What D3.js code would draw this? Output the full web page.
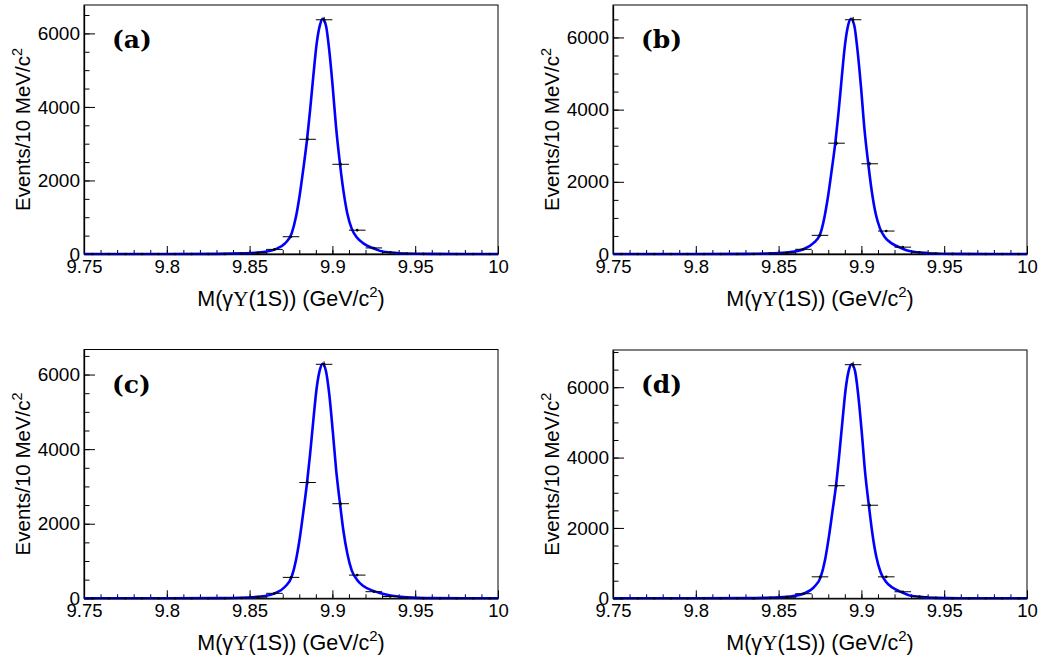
<!DOCTYPE html>
<html><head><meta charset="utf-8">
<script src="https://cdn.jsdelivr.net/npm/d3@7"></script>
<style>body{margin:0;background:#fff} svg{display:block}</style>
</head><body>
<svg id="c" width="1042" height="660"></svg>
<script>
// ---------------- data ----------------
const binCenters = [9.755, 9.765, 9.775, 9.785, 9.795, 9.805, 9.815, 9.825, 9.835, 9.845,
                    9.855, 9.865, 9.875, 9.885, 9.895, 9.905, 9.915, 9.925, 9.935, 9.945,
                    9.955, 9.965, 9.975, 9.985, 9.995];
const binWidth = 0.01;

const countsA = [0,0,0,0,0,0,0,0,0,8, 30,125,470,3120,6370,2440,648,165,45,12, 3,0,0,0,0];
const countsB = [0,0,0,0,0,0,0,0,0,8, 32,130,517,3070,6490,2500,636,190,50,14, 3,0,0,0,0];
const countsC = [0,0,0,0,0,0,0,0,0,9, 34,133,561,3105,6275,2537,622,177,48,13, 3,0,0,0,0];
const countsD = [0,0,0,0,0,0,0,0,0,9, 33,130,610,3200,6640,2645,610,186,50,14, 3,0,0,0,0];

// fitted curves
const curveXA = [9.75, 9.80, 9.83, 9.845, 9.8567, 9.8653, 9.8714, 9.8754, 9.878, 9.8804, 9.8824, 9.8847, 9.8865, 9.8885, 9.8905, 9.8925, 9.8941, 9.8961, 9.8981, 9.9002, 9.9022, 9.9046, 9.9066, 9.909, 9.9116, 9.9147, 9.9187, 9.9247, 9.9287, 9.935, 9.945, 9.96, 9.98, 10.0];
const curveYA = [0, 0.5, 4, 18, 46, 127, 290, 561, 1012, 1647, 2300, 3121, 3900, 4850, 5720, 6230, 6396, 6214, 5536, 4540, 3455, 2442, 1737, 1104, 697, 453, 290, 155, 85, 40, 12, 3, 0.5, 0];

const curveXB = [9.75, 9.80, 9.83, 9.845, 9.8563, 9.8649, 9.871, 9.875, 9.8776, 9.88, 9.882, 9.8843, 9.8861, 9.8881, 9.8901, 9.8921, 9.8937, 9.8957, 9.8977, 9.8998, 9.9018, 9.9042, 9.9062, 9.9086, 9.9112, 9.9143, 9.9183, 9.9243, 9.9283, 9.935, 9.945, 9.96, 9.98, 10.0];
const curveYB = [0, 0.5, 4, 18, 48, 130, 300, 540, 1000, 1640, 2300, 3100, 3880, 4870, 5800, 6360, 6520, 6330, 5620, 4600, 3480, 2480, 1760, 1120, 710, 460, 295, 160, 88, 42, 13, 3, 0.5, 0];

const curveXC = [9.75, 9.80, 9.83, 9.848, 9.8593, 9.8653, 9.8714, 9.8754, 9.878, 9.8804, 9.8824, 9.8847, 9.8865, 9.8885, 9.8905, 9.8925, 9.8941, 9.8961, 9.8981, 9.9002, 9.9022, 9.9046, 9.9066, 9.909, 9.9116, 9.9147, 9.9187, 9.9247, 9.9287, 9.935, 9.945, 9.96, 9.98, 10.0];
const curveYC = [0, 0.5, 5, 22, 61, 133, 310, 577, 1023, 1645, 2300, 3105, 3850, 4780, 5640, 6140, 6291, 6096, 5474, 4494, 3471, 2537, 1824, 1202, 756, 507, 330, 200, 140, 75, 25, 5, 1, 0];

const curveXD = [9.75, 9.80, 9.83, 9.845, 9.8567, 9.8653, 9.8714, 9.8754, 9.878, 9.8804, 9.8824, 9.8847, 9.8865, 9.8885, 9.8905, 9.8925, 9.8941, 9.8961, 9.8981, 9.9002, 9.9022, 9.9046, 9.9066, 9.909, 9.9116, 9.9147, 9.9187, 9.9247, 9.9287, 9.935, 9.945, 9.96, 9.98, 10.0];
const curveYD = [0, 0.5, 4, 19, 50, 135, 320, 600, 1080, 1760, 2430, 3220, 4020, 5010, 5950, 6500, 6652, 6470, 5770, 4730, 3600, 2600, 1850, 1180, 740, 480, 305, 165, 90, 43, 13, 3, 0.5, 0];

const xDomain = [9.75, 10];
const xTickValues = [9.75, 9.8, 9.85, 9.9, 9.95, 10];
const xTickLabels = ["9.75", "9.8", "9.85", "9.9", "9.95", "10"];
const xMinorStep = 0.01;
const yTickValues = [0, 2000, 4000, 6000];
const yTickLabels = ["0", "2000", "4000", "6000"];
const yMinorStep = 500;
const panelLabels = ["(a)", "(b)", "(c)", "(d)"];

// ---------------- layout ----------------
const panels = [
  {left: 84,  right: 498,  top: 5,     bottom: 254,   counts: countsA, cx: curveXA, cy: curveYA, label: panelLabels[0]},
  {left: 613, right: 1027, top: 5,     bottom: 254,   counts: countsB, cx: curveXB, cy: curveYB, label: panelLabels[1]},
  {left: 84,  right: 498,  top: 349.5, bottom: 598.3, counts: countsC, cx: curveXC, cy: curveYC, label: panelLabels[2]},
  {left: 613, right: 1027, top: 350,   bottom: 598.3, counts: countsD, cx: curveXD, cy: curveYD, label: panelLabels[3]}
];
const SANS = '"Liberation Sans", Arial, Helvetica, sans-serif';
const svg = d3.select("#c");

function drawPanel(p) {
  const g = svg.append("g");
  const x = d3.scaleLinear(xDomain, [p.left, p.right]);
  const errs = p.counts.map(v => Math.sqrt(v));
  const yMax = 1.05 * d3.max(p.counts, (v, i) => v + errs[i]);
  const y = d3.scaleLinear([0, yMax], [p.bottom, p.top]);

  // frame
  g.append("rect").attr("x", p.left).attr("y", p.top)
    .attr("width", p.right - p.left).attr("height", p.bottom - p.top)
    .attr("fill", "none").attr("stroke", "#000").attr("stroke-width", 1);

  // x minor ticks
  const xMinor = d3.range(0, 26).map(i => xDomain[0] + i * xMinorStep);
  g.append("g").attr("transform", `translate(0,${p.bottom})`)
    .call(d3.axisBottom(x).tickValues(xMinor).tickSize(-4).tickSizeOuter(0).tickFormat(""))
    .call(a => a.select(".domain").remove())
    .selectAll("line").attr("stroke", "#000");
  // x major ticks
  const xa = g.append("g").attr("transform", `translate(0,${p.bottom})`)
    .call(d3.axisBottom(x).tickValues(xTickValues).tickSize(-8).tickSizeOuter(0).tickPadding(6)
      .tickFormat((d, i) => xTickLabels[i]));
  xa.select(".domain").attr("stroke", "#000").attr("stroke-width", 1.3);
  xa.selectAll("text").attr("font-family", SANS).attr("font-size", 18.5).attr("fill", "#000");

  // y minor ticks
  const yMinor = d3.range(0, yMax, yMinorStep);
  g.append("g").attr("transform", `translate(${p.left},0)`)
    .call(d3.axisLeft(y).tickValues(yMinor).tickSize(-5.5).tickSizeOuter(0).tickFormat(""))
    .call(a => a.select(".domain").remove())
    .selectAll("line").attr("stroke", "#000");
  const ya = g.append("g").attr("transform", `translate(${p.left},0)`)
    .call(d3.axisLeft(y).tickValues(yTickValues).tickSize(-11).tickSizeOuter(0).tickPadding(4)
      .tickFormat((d, i) => yTickLabels[i]));
  ya.select(".domain").attr("stroke", "#000").attr("stroke-width", 1.3);
  ya.selectAll("text").attr("font-family", SANS).attr("font-size", 19).attr("fill", "#000");

  // fit curve
  const pts = p.cx.map((v, i) => [v, p.cy[i]]);
  g.append("path").datum(pts)
    .attr("d", d3.line().x(d => x(d[0])).y(d => y(d[1])).curve(d3.curveMonotoneX))
    .attr("fill", "none").attr("stroke", "#0000ff").attr("stroke-width", 2.6)
    .attr("stroke-linejoin", "round");

  // data points with error bars
  const pg = g.append("g").attr("stroke", "#000").attr("stroke-width", 1);
  binCenters.forEach((c, i) => {
    const v = p.counts[i], e = errs[i];
    pg.append("line").attr("x1", x(c - binWidth / 2)).attr("x2", x(c + binWidth / 2))
      .attr("y1", y(v)).attr("y2", y(v));
    if (e > 0) pg.append("line").attr("x1", x(c)).attr("x2", x(c))
      .attr("y1", y(v - e)).attr("y2", y(v + e));
    pg.append("circle").attr("cx", x(c)).attr("cy", y(v)).attr("r", 1.3)
      .attr("fill", "#000").attr("stroke", "none");
  });

  // panel label
  g.append("text").attr("x", p.left + 28).attr("y", p.top + 43)
    .attr("font-family", '"DejaVu Serif", "Liberation Serif", serif')
    .attr("font-weight", "bold").attr("font-size", 25).attr("fill", "#000")
    .text(p.label);

  // x title
  const xt = g.append("text").attr("x", (p.left + p.right) / 2).attr("y", p.bottom + 52)
    .attr("text-anchor", "middle").attr("font-family", SANS).attr("font-size", 21.5).attr("fill", "#000");
  xt.append("tspan").text("M(γ");
  xt.append("tspan").attr("font-family", '"Liberation Serif", "DejaVu Serif", serif').text("Υ");
  xt.append("tspan").text("(1S)) (GeV/c");
  xt.append("tspan").attr("font-size", 15).attr("dy", -9).text("2");
  xt.append("tspan").attr("dy", 9).text(")");

  // y title
  const yt = g.append("text")
    .attr("transform", `translate(${p.left - 54},${(p.top + p.bottom) / 2}) rotate(-90)`)
    .attr("text-anchor", "middle").attr("font-family", SANS).attr("font-size", 20.5).attr("fill", "#000");
  yt.append("tspan").text("Events/10 MeV/c");
  yt.append("tspan").attr("font-size", 14.5).attr("dy", -8.5).text("2");
}

panels.forEach(drawPanel);
</script>
</body></html>
